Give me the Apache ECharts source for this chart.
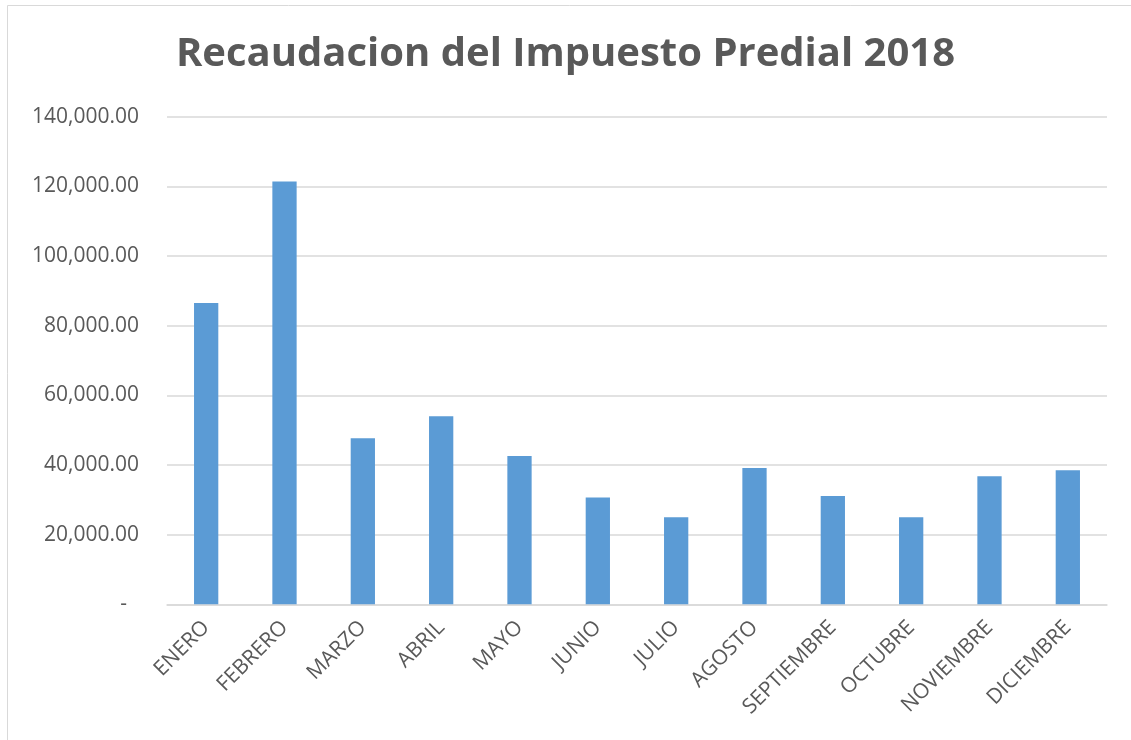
<!DOCTYPE html>
<html>
<head>
<meta charset="utf-8">
<script src="https://cdn.jsdelivr.net/npm/echarts@6/dist/echarts.min.js"></script>
<style>html,body{margin:0;padding:0;background:#fff;}#c{width:1131px;height:740px;}</style>
</head>
<body>
<div id="c"></div>
<script>
const titleText = 'Recaudacion del Impuesto Predial 2018';
const months = ['ENERO','FEBRERO','MARZO','ABRIL','MAYO','JUNIO','JULIO','AGOSTO','SEPTIEMBRE','OCTUBRE','NOVIEMBRE','DICIEMBRE'];
const recaudacion = [86500, 121400, 47700, 54000, 42600, 30700, 25000, 39100, 31100, 25000, 36800, 38500];
const yMin = 0, yMax = 140000, yStep = 20000;

const chart = echarts.init(document.getElementById('c'));
chart.setOption({
  animation: false,
  backgroundColor: '#fff',
  graphic: [{
    type: 'rect', silent: true, z: -1,
    shape: { x: 7.5, y: 5.5, width: 1200, height: 800 },
    style: { fill: 'none', stroke: '#d9d9d9', lineWidth: 1 }
  }],
  title: {
    text: titleText, left: 'center', top: 35, padding: 0,
    textStyle: { fontFamily: 'Open Sans', fontWeight: 'bold', fontSize: 40, color: '#595959' }
  },
  grid: { left: 167, right: 24, top: 116.7, bottom: 135.7, containLabel: false },
  xAxis: {
    type: 'category', data: months,
    axisLine: { lineStyle: { color: '#d9d9d9', width: 1.5 } },
    axisTick: { show: false },
    axisLabel: { rotate: 45, interval: 0, margin: 20, color: '#595959', fontFamily: 'Open Sans', fontSize: 21 }
  },
  yAxis: {
    type: 'value', min: yMin, max: yMax, interval: yStep,
    axisLine: { show: false }, axisTick: { show: false },
    splitLine: { lineStyle: { color: '#d9d9d9', width: 1.5 } },
    axisLabel: {
      margin: 28, color: '#595959', fontFamily: 'Open Sans', fontSize: 21,
      formatter: v => v === 0 ? '{d|-}' : v.toLocaleString('en-US', { minimumFractionDigits: 2, maximumFractionDigits: 2 }),
      rich: { d: { padding: [0, 12, 0, 0], color: '#595959', fontFamily: 'Open Sans', fontSize: 21 } }
    }
  },
  series: [{
    type: 'bar', data: recaudacion, barWidth: '31%',
    itemStyle: { color: '#5b9bd5' }
  }]
});
</script>
</body>
</html>
